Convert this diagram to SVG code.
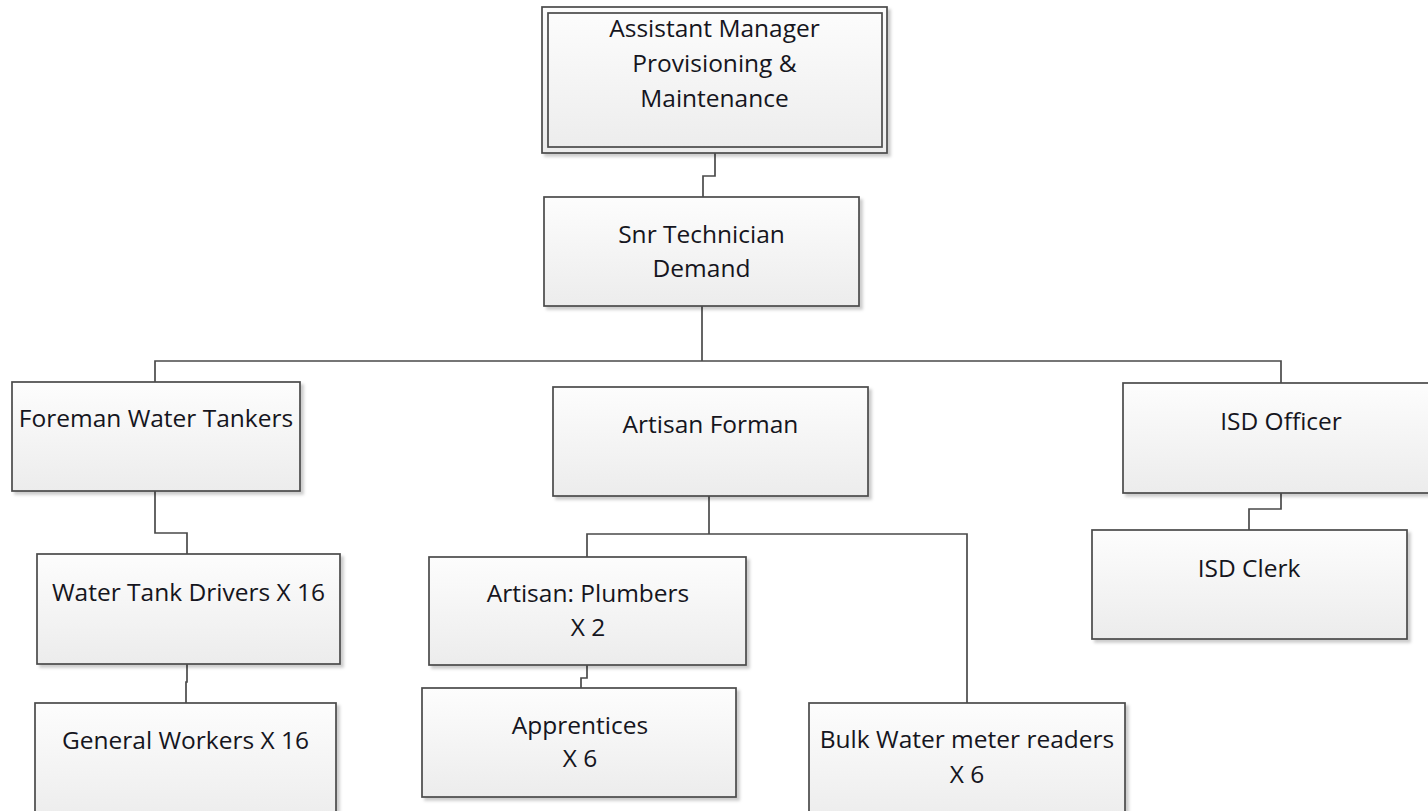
<svg xmlns="http://www.w3.org/2000/svg" width="1428" height="811" viewBox="0 0 1428 811">
  <style>
    .box { fill: url(#boxFill); stroke: #4a4a4a; stroke-width: 1.7; filter: url(#shadow); }
    .frame { fill: none; stroke: #4a4a4a; stroke-width: 1.7; }
    .wire { fill: none; stroke: #4a4a4a; stroke-width: 1.7; }
    .label { font-family: "Open Sans", "Noto Sans", "Liberation Sans", sans-serif; font-size: 24.5px; fill: #151520; text-anchor: middle; }
  </style>
  <defs>
    <linearGradient id="boxFill" x1="0" y1="0" x2="0" y2="1">
      <stop offset="0" stop-color="#fdfdfd"/>
      <stop offset="1" stop-color="#ececec"/>
    </linearGradient>
    <filter id="shadow" x="-5%" y="-5%" width="115%" height="120%">
      <feDropShadow dx="3" dy="3" stdDeviation="1.5" flood-color="#000" flood-opacity="0.2"/>
    </filter>
  </defs>

  <rect width="1428" height="811" fill="#ffffff"/>

  <!-- reporting lines -->
  <g id="connectors">
    <path class="wire" d="M715,153 V176 H703 V197"/>
    <path class="wire" d="M702,306 V361"/>
    <path class="wire" d="M155,382 V361 H1281 V383"/>
    <path class="wire" d="M155,491 V533 H187 V554"/>
    <path class="wire" d="M187,664 V682 H186 V703"/>
    <path class="wire" d="M709,496 V534"/>
    <path class="wire" d="M587,557 V534 H967 V703"/>
    <path class="wire" d="M587,665 V678 H581 V688"/>
    <path class="wire" d="M1281,493 V509 H1249 V530"/>
  </g>

  <g id="assistant-manager">
    <rect class="box" x="542" y="7" width="345" height="146"/>
    <rect class="frame" x="548" y="13" width="334" height="134"/>
    <text class="label" x="714.5" y="37">Assistant Manager</text>
    <text class="label" x="714.5" y="72">Provisioning &amp;</text>
    <text class="label" x="714.5" y="107">Maintenance</text>
  </g>

  <g id="snr-technician">
    <rect class="box" x="544" y="197" width="315" height="109"/>
    <text class="label" x="701.5" y="243">Snr Technician</text>
    <text class="label" x="701.5" y="277">Demand</text>
  </g>

  <g id="foreman-water-tankers">
    <rect class="box" x="12" y="382" width="288" height="109"/>
    <text class="label" x="156" y="427">Foreman Water Tankers</text>
  </g>

  <g id="artisan-forman">
    <rect class="box" x="553" y="387" width="315" height="109"/>
    <text class="label" x="710.5" y="433">Artisan Forman</text>
  </g>

  <g id="isd-officer">
    <rect class="box" x="1123" y="383" width="316" height="110"/>
    <text class="label" x="1281" y="430">ISD Officer</text>
  </g>

  <g id="water-tank-drivers">
    <rect class="box" x="37" y="554" width="303" height="110"/>
    <text class="label" x="188.5" y="601">Water Tank Drivers X 16</text>
  </g>

  <g id="artisan-plumbers">
    <rect class="box" x="429" y="557" width="317" height="108"/>
    <text class="label" x="588" y="602">Artisan: Plumbers</text>
    <text class="label" x="588" y="636">X 2</text>
  </g>

  <g id="isd-clerk">
    <rect class="box" x="1092" y="530" width="315" height="109"/>
    <text class="label" x="1249" y="577">ISD Clerk</text>
  </g>

  <g id="general-workers">
    <rect class="box" x="35" y="703" width="301" height="120"/>
    <text class="label" x="185.5" y="749">General Workers X 16</text>
  </g>

  <g id="apprentices">
    <rect class="box" x="422" y="688" width="314" height="109"/>
    <text class="label" x="580" y="734">Apprentices</text>
    <text class="label" x="580" y="767">X 6</text>
  </g>

  <g id="bulk-meter-readers">
    <rect class="box" x="809" y="703" width="316" height="120"/>
    <text class="label" x="967" y="748">Bulk Water meter readers</text>
    <text class="label" x="967" y="783">X 6</text>
  </g>
</svg>
